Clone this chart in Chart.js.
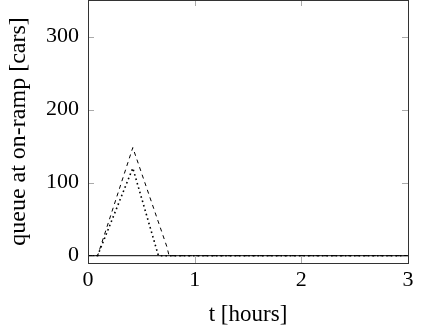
<!DOCTYPE html>
<html lang="en">
<head>
    <meta charset="UTF-8">
    <title>Queue at on-ramp</title>
    <script src="https://cdn.jsdelivr.net/npm/chart.js"></script>
    <style>
        html, body { margin: 0; padding: 0; background: #fff; }
        #wrap { width: 422px; height: 333px; position: relative; }
    </style>
</head>
<body>
    <div id="wrap"><canvas id="queueChart"></canvas></div>

    <script>
        // values (time in hours, queue in cars)
        const solidT = [0, 3];
        const solidQ = [0, 0];
        const dashedT = [0, 0.09, 0.42, 0.74, 0.76, 3];
        const dashedQ = [0, 0, 148, 12, 0, 0];
        const dottedT = [0, 0.09, 0.42, 0.66, 3];
        const dottedQ = [0, 0, 120, 0, 0];
        const xTicks = [0, 1, 2, 3];
        const yTicks = [0, 100, 200, 300];

        const pts = (t, q) => t.map((v, i) => ({ x: v, y: q[i] }));
        const serif = '"Liberation Serif", "DejaVu Serif", serif';

        // pgfplots-like frame with inward ticks
        const framePlugin = {
            id: 'frame',
            afterDatasetsDraw(chart) {
                const { ctx, chartArea: a, scales } = chart;
                ctx.save();
                ctx.strokeStyle = '#aaa';
                ctx.lineWidth = 1;
                ctx.beginPath();
                xTicks.forEach(v => {
                    const px = Math.round(scales.x.getPixelForValue(v)) + 0.5;
                    ctx.moveTo(px, a.bottom); ctx.lineTo(px, a.bottom - 6);
                    ctx.moveTo(px, a.top); ctx.lineTo(px, a.top + 6);
                });
                yTicks.forEach(v => {
                    const py = Math.round(scales.y.getPixelForValue(v)) + 0.5;
                    ctx.moveTo(a.left, py); ctx.lineTo(a.left + 6, py);
                    ctx.moveTo(a.right, py); ctx.lineTo(a.right - 6, py);
                });
                ctx.stroke();
                ctx.strokeStyle = '#333';
                ctx.strokeRect(Math.round(a.left) + 0.5, Math.round(a.top) + 0.5,
                    Math.round(a.right - a.left), Math.round(a.bottom - a.top));
                ctx.restore();
            }
        };

        new Chart(document.getElementById('queueChart'), {
            type: 'line',
            data: {
                datasets: [
                    { data: pts(solidT, solidQ), borderColor: '#000', borderWidth: 1 },
                    { data: pts(dashedT, dashedQ), borderColor: '#000', borderWidth: 1, borderDash: [4, 4] },
                    { data: pts(dottedT, dottedQ), borderColor: '#000', borderWidth: 1.6, borderDash: [1.6, 3] }
                ]
            },
            options: {
                responsive: true,
                maintainAspectRatio: false,
                animation: false,
                layout: { padding: { top: 0, right: 14, left: 0, bottom: 0 } },
                elements: { point: { radius: 0 }, line: { tension: 0 } },
                plugins: { legend: { display: false }, tooltip: { enabled: false } },
                scales: {
                    x: {
                        type: 'linear', min: 0, max: 3,
                        afterBuildTicks: s => { s.ticks = xTicks.map(v => ({ value: v })); },
                        afterFit: s => { s.height = 70; },
                        grid: { display: false },
                        border: { display: false },
                        ticks: { color: '#000', font: { family: serif, size: 22 }, padding: -4, maxRotation: 0 },
                        title: { display: true, text: 't [hours]', color: '#000', font: { family: serif, size: 23 }, padding: { top: 0 } }
                    },
                    y: {
                        min: -10, max: 350,
                        afterBuildTicks: s => { s.ticks = yTicks.map(v => ({ value: v })); },
                        afterFit: s => { s.width = 88; s.paddingTop = 0; s.paddingBottom = 0; },
                        grid: { display: false },
                        border: { display: false },
                        ticks: { color: '#000', font: { family: serif, size: 22 }, padding: 1 },
                        title: { display: true, text: 'queue at on-ramp [cars]', color: '#000', font: { family: serif, size: 24 }, padding: { bottom: 4 } }
                    }
                }
            },
            plugins: [framePlugin]
        });
    </script>
</body>
</html>
